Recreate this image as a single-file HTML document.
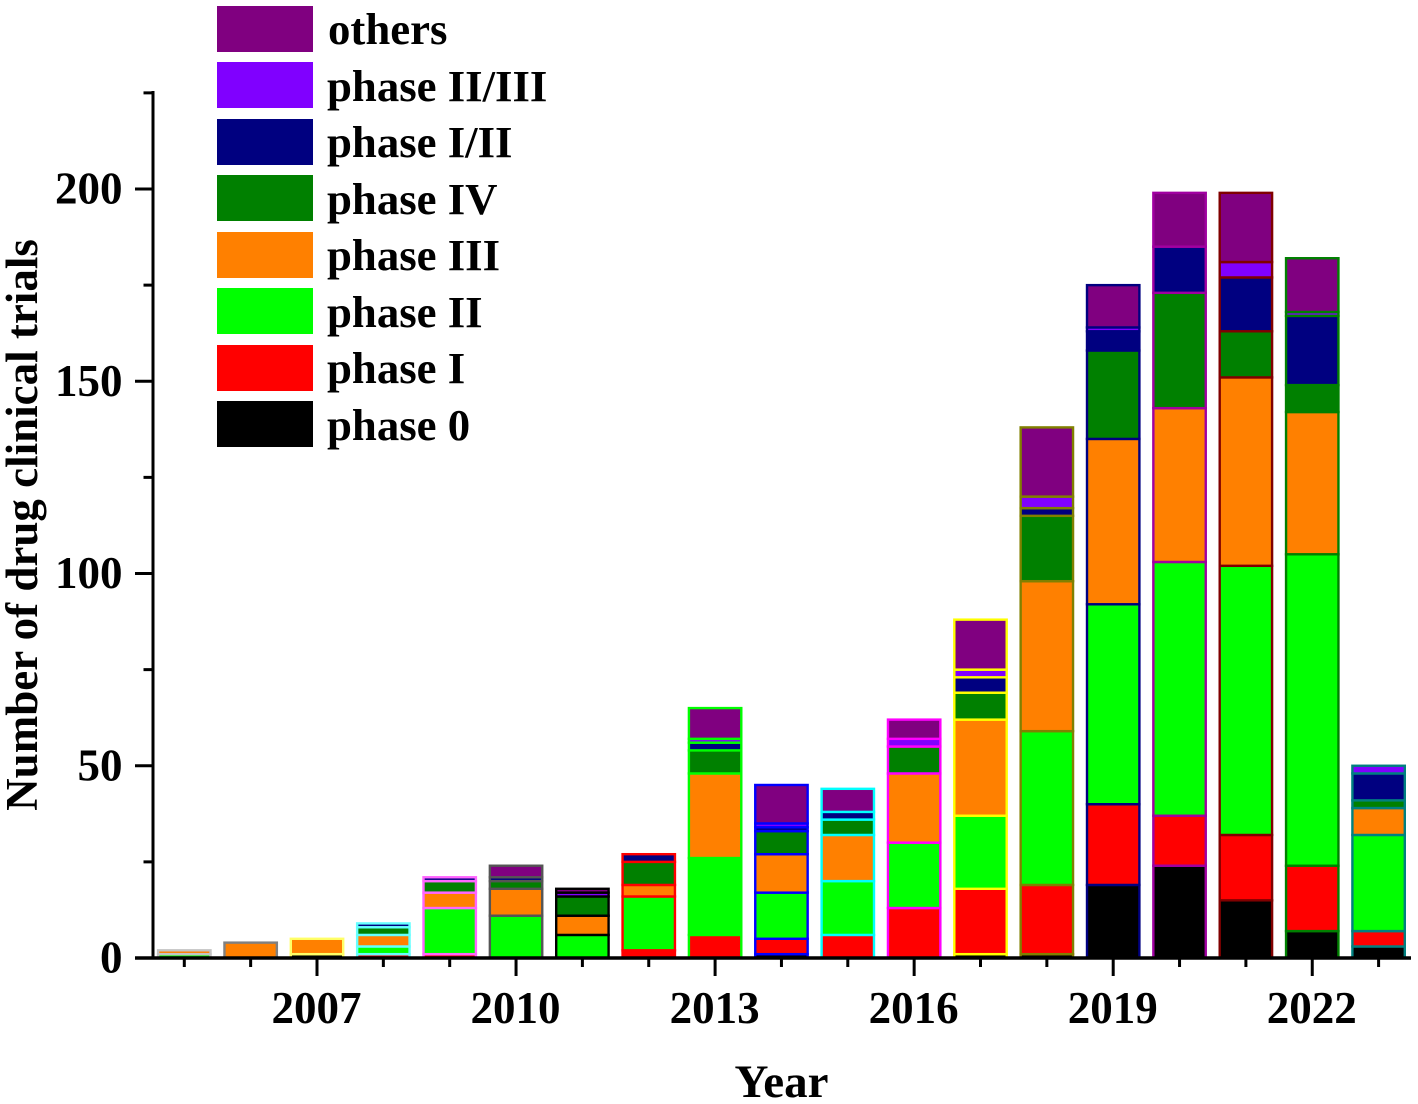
<!DOCTYPE html>
<html lang="en">
<head>
<meta charset="utf-8">
<title>Number of drug clinical trials by year</title>
<style>
html,body{margin:0;padding:0;background:#fff;}
svg{display:block;}
text{font-family:"Liberation Serif",serif;font-weight:bold;fill:#000;}
</style>
</head>
<body>
<svg id="chart" xmlns="http://www.w3.org/2000/svg" width="1418" height="1104" viewBox="0 0 1418 1104">
  <rect x="0" y="0" width="1418" height="1104" fill="#ffffff"/>
  <g id="bars"></g>
  <g id="axes"></g>
  <text x="781.5" y="1097" font-size="47" text-anchor="middle">Year</text>
  <text transform="translate(37,525) rotate(-90)" font-size="45" text-anchor="middle">Number of drug clinical trials</text>
  <g>
    <g><rect x="217" y="6" width="96" height="46" fill="#800080"/><text x="328" y="44" font-size="44.8">others</text></g>
    <g><rect x="217" y="62" width="96" height="46" fill="#8000ff"/><text x="327" y="101" font-size="44.8">phase II/III</text></g>
    <g><rect x="217" y="119" width="96" height="46" fill="#000080"/><text x="327" y="157" font-size="44.8">phase I/II</text></g>
    <g><rect x="217" y="175" width="96" height="46" fill="#008000"/><text x="327" y="214" font-size="44.8">phase IV</text></g>
    <g><rect x="217" y="232" width="96" height="46" fill="#ff8000"/><text x="327" y="270" font-size="44.8">phase III</text></g>
    <g><rect x="217" y="288" width="96" height="46" fill="#00ff00"/><text x="327" y="327" font-size="44.8">phase II</text></g>
    <g><rect x="217" y="345" width="96" height="46" fill="#ff0000"/><text x="327" y="383" font-size="44.8">phase I</text></g>
    <g><rect x="217" y="401" width="96" height="46" fill="#000000"/><text x="327" y="440" font-size="44.8">phase 0</text></g>
  </g>
</svg>
<script>
const years    = [2005,2006,2007,2008,2009,2010,2011,2012,2013,2014,2015,2016,2017,2018,2019,2020,2021,2022,2023];
const phase0   = [0,0,1,0,0,0,0,0,0,1,0,0,1,1,19,24,15,7,3];
const phase1   = [0,0,0,1,1,0,0,2,6,4,6,13,17,18,21,13,17,17,4];
const phase2   = [1,0,0,2,12,11,6,14,20,12,14,17,19,40,52,66,70,81,25];
const phase3   = [1,4,4,3,4,7,5,3,22,10,12,18,25,39,43,40,49,37,7];
const phase4   = [0,0,0,2,3,2,5,6,6,6,4,7,7,17,23,30,12,7,2];
const phase12  = [0,0,0,1,1,1,0,2,2,1,2,0,4,2,5,12,14,18,7];
const phase23  = [0,0,0,0,0,0,1,0,1,1,0,2,2,3,1,0,4,1,2];
const others   = [0,0,0,0,0,3,1,0,8,10,6,5,13,18,11,14,18,14,0];
const seriesNames = ['phase-0','phase-1','phase-2','phase-3','phase-4','phase-1-2','phase-2-3','others'];
const seriesValues = [phase0,phase1,phase2,phase3,phase4,phase12,phase23,others];
const seriesColors = ['#000000','#ff0000','#00ff00','#ff8000','#008000','#000080','#8000ff','#800080'];
const outlineColors = ['#c4c4c4','#808080','#ffff66','#66ffff','#ff66ff','#555555','#000000','#ff0000','#00ff00','#0000ff','#00ffff','#ff00ff','#ffff00','#808000','#000080','#a000a0','#800000','#008000','#008080'];
const yMajorTicks = [0,50,100,150,200];
const yMinorTicks = [25,75,125,175,225];
const xMajorTicks = [2007,2010,2013,2016,2019,2022];
const xMinorTicks = [2005,2006,2008,2009,2011,2012,2014,2015,2017,2018,2020,2021,2023];

const NS = 'http://www.w3.org/2000/svg';
const xScale = function (year) { return 317 + (year - 2007) * 66.35; };
const yScale = function (v) { return 958 - v * 3.845; };
const barsG = document.getElementById('bars');
const axesG = document.getElementById('axes');

function make(tag, attrs, parent) {
  const el = document.createElementNS(NS, tag);
  Object.keys(attrs).forEach(function (k) { el.setAttribute(k, attrs[k]); });
  parent.appendChild(el);
  return el;
}

years.forEach(function (year, i) {
  let base = 0;
  const cx = xScale(year);
  seriesValues.forEach(function (vals, s) {
    const v = vals[i];
    const top = base + v;
    const seg = make('rect', {
      x: cx - 26.2, y: yScale(top), width: 52.4,
      height: Math.max(0, yScale(base) - yScale(top)),
      fill: seriesColors[s], stroke: outlineColors[i], 'stroke-width': 2.4
    }, barsG);
    
    
    base = top;
  });
});

const yAxis = make('line', {x1:153, y1:91, x2:153, y2:959.5, stroke:'#000', 'stroke-width':3}, axesG);


const xAxis = make('line', {x1:135, y1:958, x2:1411, y2:958, stroke:'#000', 'stroke-width':3.4}, axesG);



yMajorTicks.forEach(function (v) {
  const t = make('line', {x1:135, y1:yScale(v), x2:153, y2:yScale(v), stroke:'#000', 'stroke-width':3}, axesG);
  
  
  const l = make('text', {x:122.5, y:yScale(v) + 14.5, 'font-size':45, 'text-anchor':'end'}, axesG);
  l.textContent = String(v);
  
  
});
yMinorTicks.forEach(function (v) {
  const t = make('line', {x1:143.5, y1:yScale(v), x2:153, y2:yScale(v), stroke:'#000', 'stroke-width':3}, axesG);
  
  
});
xMajorTicks.forEach(function (year) {
  const t = make('line', {x1:xScale(year), y1:958, x2:xScale(year), y2:976, stroke:'#000', 'stroke-width':3}, axesG);
  
  
  const l = make('text', {x:xScale(year) - 0.5, y:1023, 'font-size':45, 'text-anchor':'middle'}, axesG);
  l.textContent = String(year);
  
  
});
xMinorTicks.forEach(function (year) {
  const t = make('line', {x1:xScale(year), y1:958, x2:xScale(year), y2:967, stroke:'#000', 'stroke-width':3}, axesG);
  
  
});
</script>
</body>
</html>
